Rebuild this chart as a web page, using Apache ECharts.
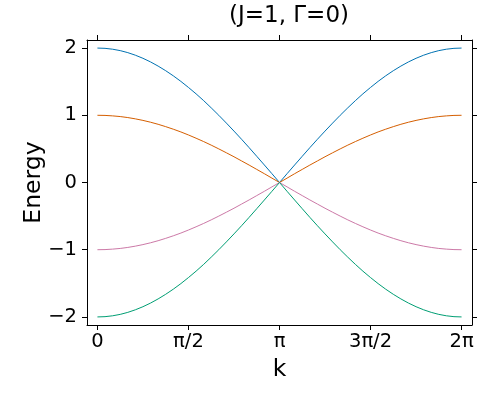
<!DOCTYPE html>
<html>
<head>
<meta charset="utf-8">
<script src="https://cdn.jsdelivr.net/npm/echarts@6/dist/echarts.min.js"></script>
<style>
  html, body { margin: 0; padding: 0; background: #fff; }
  #chart { width: 500px; height: 400px; }
</style>
</head>
<body>
<div id="chart"></div>
<script>
// k samples (0 .. 2π)
var kValues = [0, 0.131, 0.262, 0.393, 0.524, 0.654, 0.785, 0.916, 1.047, 1.178, 1.309, 1.440,
  1.571, 1.702, 1.833, 1.963, 2.094, 2.225, 2.356, 2.487, 2.618, 2.749, 2.880, 3.011,
  3.142, 3.272, 3.403, 3.534, 3.665, 3.796, 3.927, 4.058, 4.189, 4.320, 4.451, 4.581,
  4.712, 4.843, 4.974, 5.105, 5.236, 5.367, 5.498, 5.629, 5.760, 5.890, 6.021, 6.152, 6.283];
var band1 = [2.000, 1.996, 1.983, 1.962, 1.932, 1.894, 1.848, 1.794, 1.732, 1.663, 1.587, 1.504,
  1.414, 1.319, 1.218, 1.111, 1.000, 0.884, 0.765, 0.643, 0.518, 0.390, 0.261, 0.131,
  0.000, 0.131, 0.261, 0.390, 0.518, 0.643, 0.765, 0.884, 1.000, 1.111, 1.218, 1.319,
  1.414, 1.504, 1.587, 1.663, 1.732, 1.794, 1.848, 1.894, 1.932, 1.962, 1.983, 1.996, 2.000];
var band2 = [1.000, 0.998, 0.991, 0.981, 0.966, 0.947, 0.924, 0.897, 0.866, 0.831, 0.793, 0.752,
  0.707, 0.659, 0.609, 0.556, 0.500, 0.442, 0.383, 0.321, 0.259, 0.195, 0.131, 0.065,
  0.000, 0.065, 0.131, 0.195, 0.259, 0.321, 0.383, 0.442, 0.500, 0.556, 0.609, 0.659,
  0.707, 0.752, 0.793, 0.831, 0.866, 0.897, 0.924, 0.947, 0.966, 0.981, 0.991, 0.998, 1.000];
var band3 = [-1.000, -0.998, -0.991, -0.981, -0.966, -0.947, -0.924, -0.897, -0.866, -0.831, -0.793, -0.752,
  -0.707, -0.659, -0.609, -0.556, -0.500, -0.442, -0.383, -0.321, -0.259, -0.195, -0.131, -0.065,
  0.000, -0.065, -0.131, -0.195, -0.259, -0.321, -0.383, -0.442, -0.500, -0.556, -0.609, -0.659,
  -0.707, -0.752, -0.793, -0.831, -0.866, -0.897, -0.924, -0.947, -0.966, -0.981, -0.991, -0.998, -1.000];
var band4 = [-2.000, -1.996, -1.983, -1.962, -1.932, -1.894, -1.848, -1.794, -1.732, -1.663, -1.587, -1.504,
  -1.414, -1.319, -1.218, -1.111, -1.000, -0.884, -0.765, -0.643, -0.518, -0.390, -0.261, -0.131,
  0.000, -0.131, -0.261, -0.390, -0.518, -0.643, -0.765, -0.884, -1.000, -1.111, -1.218, -1.319,
  -1.414, -1.504, -1.587, -1.663, -1.732, -1.794, -1.848, -1.894, -1.932, -1.962, -1.983, -1.996, -2.000];

var xTicks = [0, Math.PI / 2, Math.PI, 3 * Math.PI / 2, 2 * Math.PI];
var xTickLabels = ['0', 'π/2', 'π', '3π/2', '2π'];
var yTicks = [-2, -1, 0, 1, 2];
var yTickLabels = ['−2', '−1', '0', '1', '2'];

var colors = ['#0072B2', '#D55E00', '#CC79A7', '#009E73'];
var font = 'DejaVu Sans';

function pairs(ys) {
  return kValues.map(function (k, i) { return [k, ys[i]]; });
}
function lookup(ticks, labels) {
  return function (v) {
    for (var i = 0; i < ticks.length; i++) {
      if (Math.abs(ticks[i] - v) < 1e-6) return labels[i];
    }
    return '';
  };
}

var chart = echarts.init(document.getElementById('chart'));

var axisLine = { show: true, onZero: false, lineStyle: { color: '#000', width: 1 } };
var tick = { show: true, inside: false, length: 5, lineStyle: { color: '#000', width: 1 } };

var xBase = { type: 'value', min: -0.18, max: 2 * Math.PI + 0.18, splitLine: { show: false }, axisLine: axisLine };
var yBase = { type: 'value', min: -2.12, max: 2.12, splitLine: { show: false }, axisLine: axisLine };

var option = {
  animation: false,
  backgroundColor: '#fff',
  title: {
    text: '(J=1, Γ=0)',
    left: 284,
    top: 0,
    textAlign: 'center',
    textStyle: { fontFamily: font, fontSize: 23, fontWeight: 'normal', color: '#000' }
  },
  grid: { left: 87, right: 28, top: 40, bottom: 75 },
  xAxis: [
    Object.assign({}, xBase, {
      position: 'bottom',
      name: 'k',
      nameLocation: 'middle',
      nameGap: 33,
      nameMoveOverlap: false,
      nameTextStyle: { fontFamily: font, fontSize: 23.5, color: '#000' },
      axisTick: Object.assign({ customValues: xTicks }, tick),
      axisLabel: {
        customValues: xTicks,
        formatter: lookup(xTicks, xTickLabels),
        fontFamily: font, fontSize: 19.5, color: '#000', margin: 7
      }
    }),
    Object.assign({}, xBase, {
      position: 'top',
      axisTick: Object.assign({ customValues: xTicks }, tick),
      axisLabel: { show: false }
    })
  ],
  yAxis: [
    Object.assign({}, yBase, {
      position: 'left',
      name: 'Energy',
      nameLocation: 'middle',
      nameGap: 41,
      nameMoveOverlap: false,
      nameTextStyle: { fontFamily: font, fontSize: 23.5, color: '#000' },
      axisTick: Object.assign({ customValues: yTicks }, tick),
      axisLabel: {
        customValues: yTicks,
        formatter: lookup(yTicks, yTickLabels),
        fontFamily: font, fontSize: 19.5, color: '#000', margin: 10
      }
    }),
    Object.assign({}, yBase, {
      position: 'right',
      axisTick: Object.assign({ customValues: yTicks }, tick),
      axisLabel: { show: false }
    })
  ],
  series: [band1, band2, band3, band4].map(function (b, i) {
    return {
      type: 'line',
      data: pairs(b),
      showSymbol: false,
      symbol: 'none',
      smooth: false,
      lineStyle: { color: colors[i], width: 1 },
      xAxisIndex: 0,
      yAxisIndex: 0
    };
  })
};

chart.setOption(option);
</script>
</body>
</html>
